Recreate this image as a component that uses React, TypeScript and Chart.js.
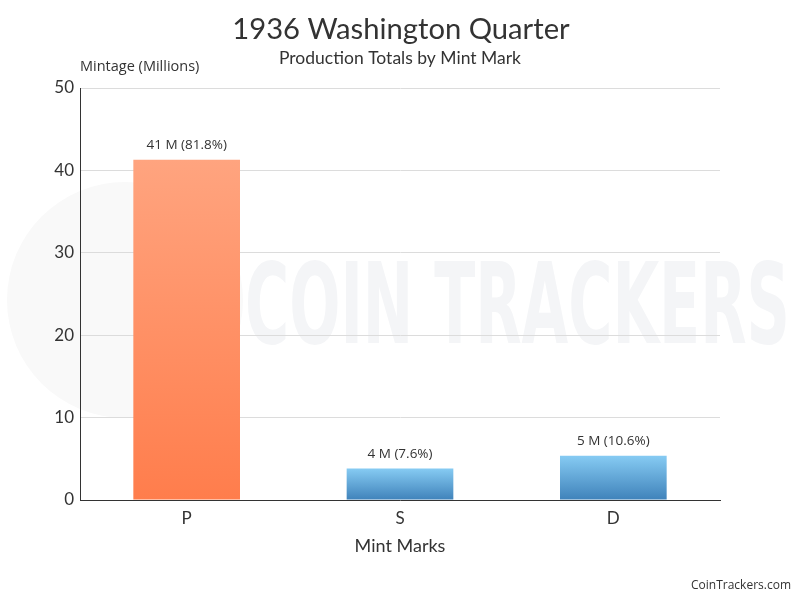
import React, { useEffect, useRef } from "react";
import { Chart, registerables } from "chart.js";

Chart.register(...registerables);

const categories = ["P", "S", "D"];
const mintage = [41.3, 3.828, 5.374]; // millions
const topColors = ["#ffa47f", "#86cbf3", "#86cbf3"];
const bottomColors = ["#ff7d4c", "#3f82ba", "#3f82ba"];
const yTicks = [0, 10, 20, 30, 40, 50];
const titleText = "1936 Washington Quarter";
const subtitleText = "Production Totals by Mint Mark";
const yAxisTitle = "Mintage (Millions)";
const xAxisTitle = "Mint Marks";
const footerText = "CoinTrackers.com";

const total = mintage.reduce((a, b) => a + b, 0);

const textPlugin = {
  id: "texts",
  beforeDraw(chart: any) {
    const ctx = chart.ctx;
    ctx.save();
    // watermark circle
    ctx.fillStyle = "#f9f9f9";
    ctx.beginPath();
    ctx.arc(125, 300, 118, 0, Math.PI * 2);
    ctx.fill();
    // watermark text
    ctx.fillStyle = "#f4f5f7";
    ctx.font = "bold 112px 'DejaVu Sans Condensed', 'Liberation Sans Narrow', sans-serif";
    ctx.textBaseline = "alphabetic";
    ctx.textAlign = "left";
    const w = ctx.measureText("COIN TRACKERS").width;
    ctx.translate(245, 343);
    ctx.scale(545 / w, 1);
    ctx.fillText("COIN TRACKERS", 0, 0);
    ctx.restore();
  },
  afterDraw(chart: any) {
    const ctx = chart.ctx;
    const area = chart.chartArea;
    ctx.save();
    ctx.fillStyle = "#333";
    ctx.textAlign = "center";
    ctx.textBaseline = "middle";
    ctx.font = "29.2px Lato, sans-serif";
    ctx.fillText(titleText, 401, 30);
    ctx.font = "17.5px Lato, sans-serif";
    ctx.fillText(subtitleText, 400, 58);
    ctx.font = "18px Lato, sans-serif";
    ctx.fillText(xAxisTitle, 400, 546);
    ctx.textAlign = "left";
    ctx.font = "14.5px 'Open Sans', sans-serif";
    ctx.fillText(yAxisTitle, area.left, 67);
    ctx.textAlign = "right";
    ctx.font = "12px 'Open Sans', sans-serif";
    ctx.fillText(footerText, 791, 586);
    // data labels
    ctx.textAlign = "center";
    ctx.textBaseline = "bottom";
    ctx.font = "13.5px 'Open Sans', sans-serif";
    const meta = chart.getDatasetMeta(0);
    meta.data.forEach((bar: any, i: number) => {
      const v = mintage[i];
      const label = `${Math.round(v)} M (${((v / total) * 100).toFixed(1)}%)`;
      ctx.fillText(label, bar.x, bar.y - 8);
    });
    ctx.restore();
  },
};

export default function App() {
  const canvasRef = useRef<HTMLCanvasElement | null>(null);

  useEffect(() => {
    document.body.style.margin = "0";
    const canvas = canvasRef.current;
    if (!canvas) return;
    const chart = new Chart(canvas, {
      type: "bar",
      data: {
        labels: categories,
        datasets: [
          {
            data: mintage,
            barPercentage: 0.5,
            categoryPercentage: 1,
            backgroundColor: (c: any) => {
              const ch = c.chart;
              const area = ch.chartArea;
              const i = c.dataIndex;
              if (!area || i === undefined) return topColors[i ?? 0];
              const top = ch.scales.y.getPixelForValue(mintage[i]);
              const g = ch.ctx.createLinearGradient(0, top, 0, area.bottom);
              g.addColorStop(0, topColors[i]);
              g.addColorStop(1, bottomColors[i]);
              return g;
            },
          },
        ],
      },
      options: {
        animation: false,
        responsive: false,
        layout: { padding: { top: 88, right: 80, left: 0, bottom: 0 } },
        plugins: {
          legend: { display: false },
          tooltip: { enabled: false },
          title: { display: false },
        },
        scales: {
          x: {
            grid: { display: false, drawTicks: false },
            border: { display: true, color: "#333", width: 1 },
            ticks: {
              color: "#333",
              font: { family: "Lato, sans-serif", size: 17 },
              padding: 8,
            },
            afterFit: (s: any) => {
              s.height = 100;
            },
          },
          y: {
            min: 0,
            max: 50,
            afterBuildTicks: (s: any) => {
              s.ticks = yTicks.map((v) => ({ value: v }));
            },
            grid: { color: "#dcdcdc", drawTicks: false },
            border: { display: true, color: "#333", width: 1 },
            ticks: {
              color: "#333",
              font: { family: "Lato, sans-serif", size: 17 },
              padding: 6,
            },
            afterFit: (s: any) => {
              s.width = 80;
            },
          },
        },
      },
      plugins: [textPlugin],
    });
    return () => chart.destroy();
  }, []);

  return (
    <div style={{ position: "absolute", left: 0, top: 0, width: 800, height: 600, background: "#fff" }}>
      <canvas ref={canvasRef} width={800} height={600} style={{ width: 800, height: 600 }} />
    </div>
  );
}
